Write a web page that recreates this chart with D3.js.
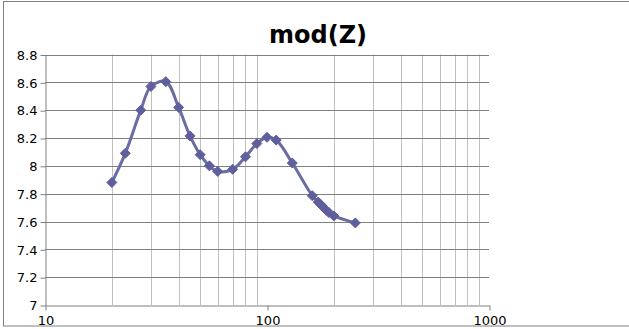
<!DOCTYPE html>
<html>
<head>
<meta charset="utf-8">
<script src="https://cdn.jsdelivr.net/npm/d3@7"></script>
<style>
  body { margin: 0; background: #fff; }
  svg { display: block; font-family: 'DejaVu Sans', Verdana, sans-serif; }
</style>
</head>
<body>
<div id="chart"></div>
<script>
const freq = [20, 23, 27, 30, 35, 40, 45, 50, 55, 60, 70, 80, 90, 100, 110, 130, 160, 170, 175, 180, 185, 190, 200, 250];
const modZ = [7.88, 8.09, 8.40, 8.57, 8.605, 8.42, 8.215, 8.08, 8.0, 7.96, 7.975, 8.065, 8.16, 8.205, 8.185, 8.02, 7.785, 7.74, 7.72, 7.70, 7.68, 7.665, 7.64, 7.59];
const yTicks = [7, 7.2, 7.4, 7.6, 7.8, 8, 8.2, 8.4, 8.6, 8.8];
const xTicks = [10, 100, 1000];

const svgWidth = 629;
const svgHeight = 329;
const plot = { left: 45, right: 489, top: 54.5, bottom: 305 };

const svg = d3.select('#chart')
    .append('svg')
    .attr('width', svgWidth)
    .attr('height', svgHeight);

// outer chart border
svg.append('rect')
    .attr('x', 3.5).attr('y', 1.5)
    .attr('width', svgWidth).attr('height', 324.5)
    .attr('fill', 'none')
    .attr('stroke', '#808080');

const x = d3.scaleLog().domain([10, 1000]).range([plot.left, plot.right]);
const y = d3.scaleLinear().domain([7, 8.8]).range([plot.bottom, plot.top]);

// minor vertical gridlines (no lines on the decades)
const minor = [];
[10, 100].forEach(dec => {
    for (let k = 2; k <= 9; k++) minor.push(dec * k);
});
svg.append('g')
    .selectAll('line')
    .data(minor)
    .enter()
    .append('line')
    .attr('x1', d => Math.round(x(d)) + 0.5)
    .attr('x2', d => Math.round(x(d)) + 0.5)
    .attr('y1', plot.top)
    .attr('y2', plot.bottom)
    .attr('stroke', '#c0c0c0');

// horizontal gridlines
svg.append('g')
    .selectAll('line')
    .data(yTicks.slice(1))
    .enter()
    .append('line')
    .attr('x1', plot.left)
    .attr('x2', plot.right)
    .attr('y1', d => Math.round(y(d)) + 0.5)
    .attr('y2', d => Math.round(y(d)) + 0.5)
    .attr('stroke', '#808080');

const yAxis = svg.append('g')
    .attr('transform', `translate(${plot.left + 0.5}, 0.5)`)
    .call(d3.axisLeft(y).tickValues(yTicks).tickFormat(d => d3.format('')(+d.toFixed(1))).tickSize(5).tickPadding(3).tickSizeOuter(0));

const xAxis = svg.append('g')
    .attr('transform', `translate(0.5, ${Math.round(plot.bottom) + 0.5})`)
    .call(d3.axisBottom(x).tickValues(xTicks).tickFormat(d3.format('d')).tickSize(5).tickPadding(5).tickSizeOuter(0));

[yAxis, xAxis].forEach(a => {
    a.select('.domain').attr('stroke', '#808080');
    a.selectAll('.tick line').attr('stroke', '#808080');
    a.selectAll('.tick text')
        .attr('fill', '#000')
        .style('font-size', '13px')
        .style('font-family', "'DejaVu Sans', sans-serif");
});

// smoothed series line
const line = d3.line()
    .x((d, i) => x(freq[i]))
    .y(d => y(d))
    .curve(d3.curveCatmullRom.alpha(0.5));

svg.append('path')
    .datum(modZ)
    .attr('d', line)
    .attr('fill', 'none')
    .attr('stroke', '#6a6ca4')
    .attr('stroke-width', 3);

// diamond markers
svg.append('g')
    .selectAll('path')
    .data(modZ)
    .enter()
    .append('path')
    .attr('transform', (d, i) => `translate(${x(freq[i])}, ${y(d)})`)
    .attr('d', 'M0,-5L5,0L0,5L-5,0Z')
    .attr('fill', '#5e5f9c')
    .attr('stroke', '#5e5f9c')
    .attr('stroke-width', 1);

svg.append('text')
    .attr('x', 318)
    .attr('y', 43)
    .attr('text-anchor', 'middle')
    .style('font-size', '24px')
    .style('font-weight', 'bold')
    .text('mod(Z)');
</script>
</body>
</html>
